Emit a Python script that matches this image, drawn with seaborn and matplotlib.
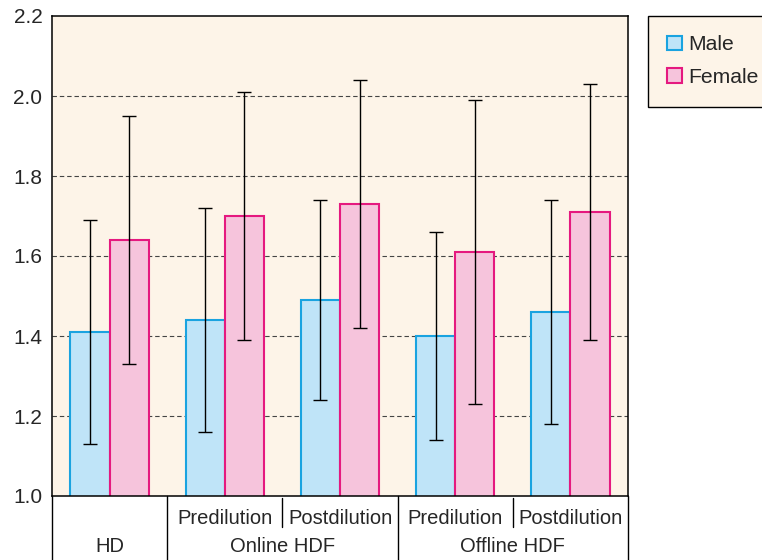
import matplotlib
matplotlib.use("Agg")
import matplotlib.pyplot as plt
from matplotlib.patches import Patch
import seaborn as sns
import pandas as pd
import numpy as np

# Dialysis modality groups
methods = ["HD", "Online HDF", "Offline HDF"]
dilution = ["", "Predilution", "Postdilution", "Predilution", "Postdilution"]
group_keys = ["HD", "Online Pre", "Online Post", "Offline Pre", "Offline Post"]

male_mean = [1.41, 1.44, 1.49, 1.40, 1.46]
male_sd = [0.28, 0.28, 0.25, 0.26, 0.28]
female_mean = [1.64, 1.70, 1.73, 1.61, 1.71]
female_sd = [0.31, 0.31, 0.31, 0.38, 0.32]

sexes = ["Male", "Female"]
fill_colors = {"Male": "#bfe4f8", "Female": "#f6c4dc"}
edge_colors = {"Male": "#1aa3e0", "Female": "#e5197f"}
bg = "#fdf4e8"

df = pd.DataFrame({
    "group": group_keys * 2,
    "sex": ["Male"] * 5 + ["Female"] * 5,
    "value": male_mean + female_mean,
    "sd": male_sd + female_sd,
})

sns.set_style("white")
plt.rcParams["font.family"] = ["Liberation Sans", "DejaVu Sans"]

fig = plt.figure(figsize=(7.62, 5.6), dpi=100)
ax = fig.add_axes([52 / 762, 1 - 496 / 560, 576 / 762, 480 / 560])
ax.set_facecolor(bg)

sns.barplot(data=df, x="group", y="value", hue="sex", order=group_keys,
            hue_order=sexes, palette=fill_colors, width=0.68, saturation=1,
            errorbar=None, legend=False, ax=ax, zorder=2)

# Outline each bar with its series colour and add SD error bars
for cont, sex in zip(ax.containers, sexes):
    sub = df[df["sex"] == sex].set_index("group").loc[group_keys]
    xs = []
    for patch in cont.patches:
        patch.set_edgecolor(edge_colors[sex])
        patch.set_linewidth(1.5)
        xs.append(patch.get_x() + patch.get_width() / 2)
    ax.errorbar(xs, sub["value"], yerr=sub["sd"], fmt="none", ecolor="black",
                elinewidth=1.0, capsize=4.7, capthick=1.0, zorder=3)

ax.set_xlim(-0.5, 4.5)
ax.set_ylim(1.0, 2.2)
yt = np.round(np.arange(1.0, 2.21, 0.2), 1)
ax.set_yticks(yt)
ax.set_yticklabels([f"{v:.1f}" for v in yt], fontsize=15)
ax.tick_params(axis="y", length=0, pad=7)
ax.set_xticks([])
ax.set_xlabel("")
ax.set_ylabel("")

for y in [1.2, 1.4, 1.6, 1.8, 2.0]:
    ax.axhline(y, color="#444444", lw=0.8, ls=(0, (4, 2.6)), zorder=1)

for s in ax.spines.values():
    s.set_visible(True)
    s.set_color("black")
    s.set_linewidth(1.1)

# Two-level category table below the axis
trans = ax.get_xaxis_transform()
row1_y = -(518 - 496) / 480
row2_y = -(546 - 496) / 480
bottom_y = -(560 - 496) / 480
short_y = -(527 - 496) / 480
for x in [-0.5, 0.5, 2.5, 4.5]:
    ax.plot([x, x], [0, bottom_y], transform=trans, color="black", lw=1.0,
            clip_on=False)
for x in [1.5, 3.5]:
    ax.plot([x, x], [-0.004, short_y], transform=trans, color="black", lw=1.0,
            clip_on=False)
for i, d in enumerate(dilution):
    if d:
        ax.text(i, row1_y, d, transform=trans, ha="center", va="center",
                fontsize=14.5)
for xc, name in zip([0, 1.5, 3.5], methods):
    ax.text(xc, row2_y, name, transform=trans, ha="center", va="center",
            fontsize=14.5)

# Legend
handles = [Patch(facecolor=fill_colors[s], edgecolor=edge_colors[s], lw=1.5,
                 label=s) for s in sexes]
leg = fig.legend(handles=handles, loc="upper left",
                 bbox_to_anchor=(648 / 762, 1 - 16 / 560), borderaxespad=0,
                 fontsize=15.2, frameon=True, fancybox=False, handlelength=0.68,
                 handleheight=0.68, handletextpad=0.32, labelspacing=0.65,
                 borderpad=0.92)
leg.get_frame().set_facecolor(bg)
leg.get_frame().set_edgecolor("black")
leg.get_frame().set_linewidth(1.0)
leg.get_frame().set_alpha(1)

fig.savefig("out.png", dpi=100)
